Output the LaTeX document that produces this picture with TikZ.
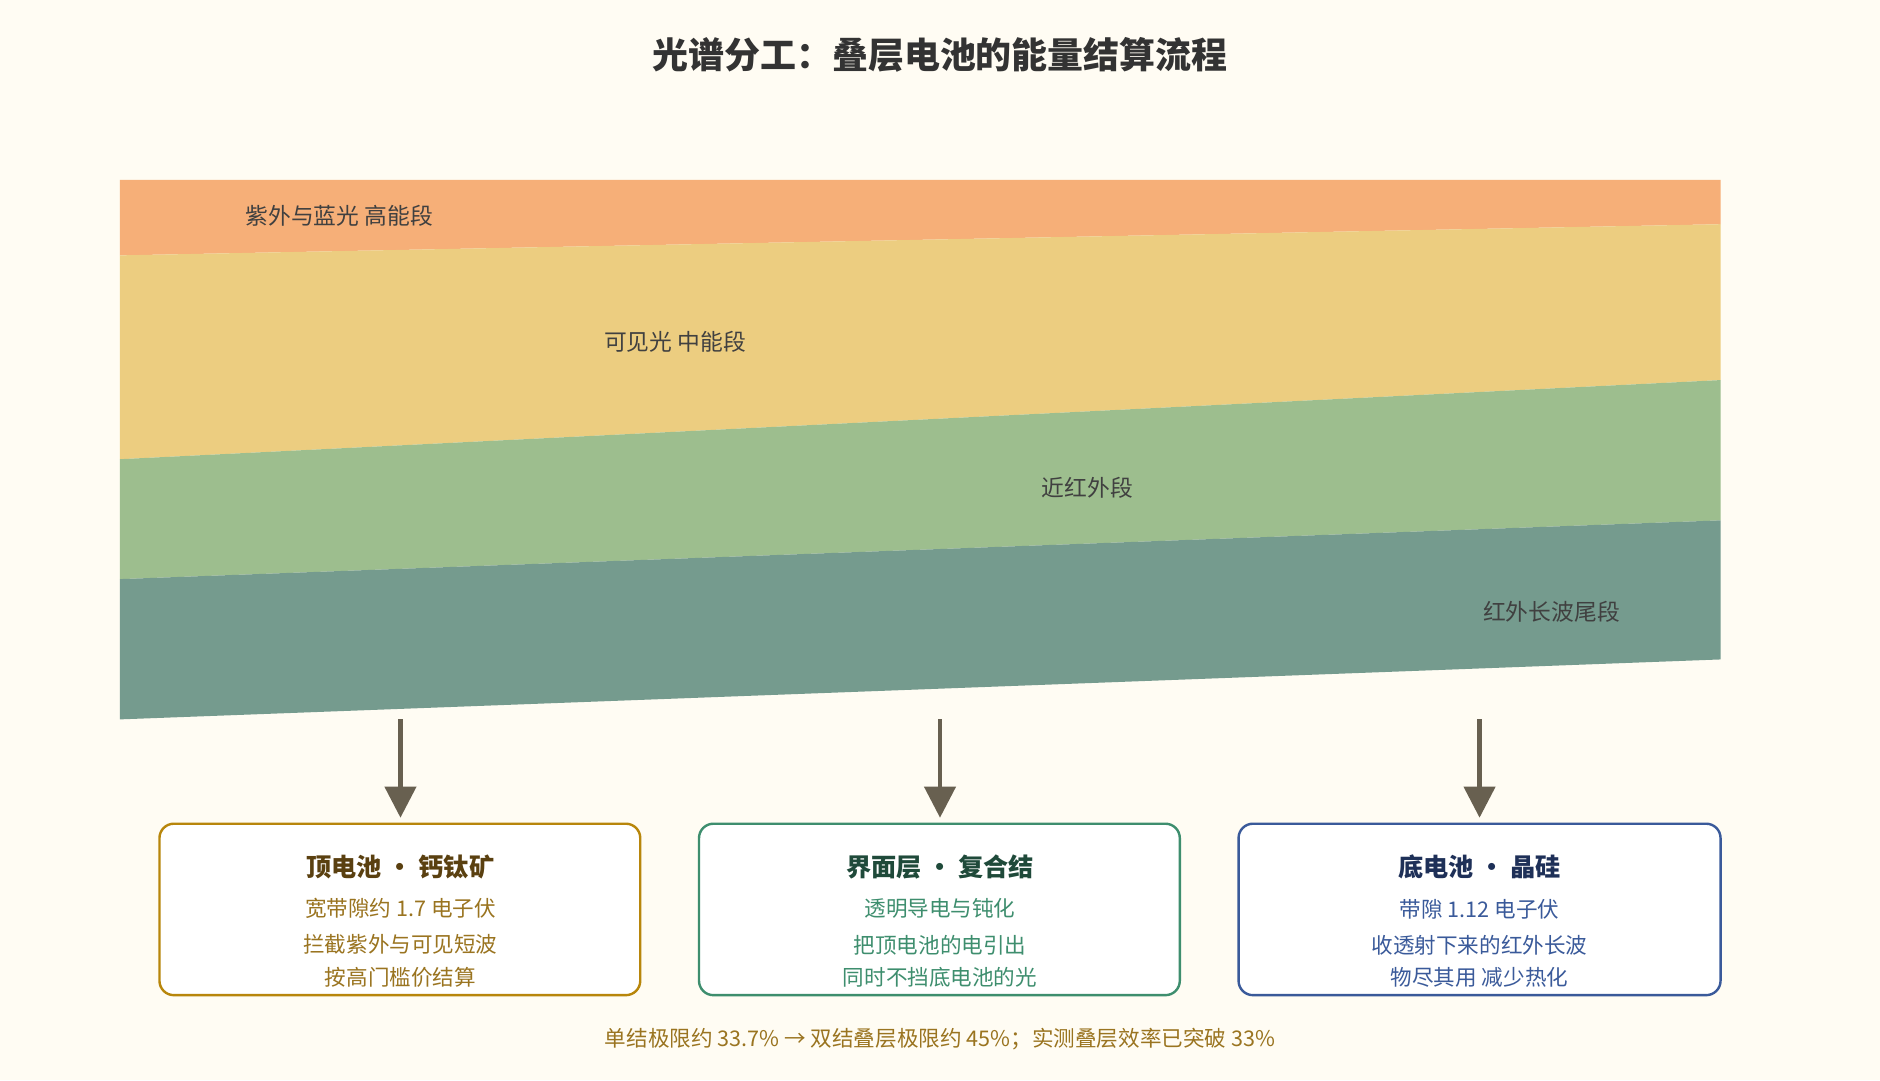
\documentclass[tikz,border=0pt]{standalone}
\usepackage{fontspec}
\setmainfont{Noto Sans CJK SC}
\usetikzlibrary{arrows.meta}
\definecolor{bg}{HTML}{FFFCF3}
\definecolor{orng}{HTML}{F6AF78}
\definecolor{yel}{HTML}{ECCD80}
\definecolor{grn}{HTML}{9DBE8E}
\definecolor{teal}{HTML}{759B8E}
\definecolor{arr}{HTML}{686050}
\definecolor{gold}{HTML}{B8860B}
\definecolor{goldt}{HTML}{5A4010}
\definecolor{gtx}{HTML}{9A7420}
\definecolor{gb}{HTML}{3E8E6E}
\definecolor{gbt}{HTML}{1F4A3A}
\definecolor{bb}{HTML}{3A5A9A}
\definecolor{bbt}{HTML}{1E3058}
\begin{document}
\begin{tikzpicture}[x=1pt,y=-1pt,
 band/.style={font=\fontsize{19}{22}\selectfont, text=black!75},
 card/.style={draw, line width=2pt, rounded corners=12pt, fill=white},
 ttl/.style={font=\bfseries\fontsize{21}{24}\selectfont},
 ln/.style={font=\fontsize{18}{21}\selectfont},
 ar/.style={draw=arr, line width=3.5pt, -{Triangle[length=26pt,width=26pt]}}]
\fill[bg] (0,0) rectangle (1568,901);
\useasboundingbox (0,0) rectangle (1568,901);
\node[font=\bfseries\fontsize{30}{34}\selectfont, text=black!80] (t) at (784,46) {光谱分工：叠层电池的能量结算流程};
\fill[orng] (100,150) -- (1435,150) -- (1435,187) -- (100,213) -- cycle;
\fill[yel] (100,213) -- (1435,187) -- (1435,317) -- (100,383) -- cycle;
\fill[grn] (100,383) -- (1435,317) -- (1435,434) -- (100,483) -- cycle;
\fill[teal] (100,483) -- (1435,434) -- (1435,550) -- (100,600) -- cycle;
\node[band] (l1) at (283,180) {紫外与蓝光 高能段};
\node[band] (l2) at (563,285) {可见光 中能段};
\node[band] (l3) at (907,407) {近红外段};
\node[band] (l4) at (1294,510) {红外长波尾段};
\coordinate (a1) at (334,600); \coordinate (a2) at (784,600); \coordinate (a3) at (1234,600);
\coordinate (b1) at (334,682); \coordinate (b2) at (784,682); \coordinate (b3) at (1234,682);
\draw[ar] (a1) -- (b1); \draw[ar] (a2) -- (b2); \draw[ar] (a3) -- (b3);
\draw[card, draw=gold] (133,687) rectangle (534,830);
\draw[card, draw=gb] (583,687) rectangle (984,830);
\draw[card, draw=bb] (1033,687) rectangle (1435,830);
\node[ttl, text=goldt] (c1) at (334,723) {顶电池 • 钙钛矿};
\node[ln, text=gtx] (c1a) at (334,758) {宽带隙约 1.7 电子伏};
\node[ln, text=gtx] (c1b) at (334,788) {拦截紫外与可见短波};
\node[ln, text=gtx] (c1c) at (334,815) {按高门槛价结算};
\node[ttl, text=gbt] (c2) at (784,723) {界面层 • 复合结};
\node[ln, text=gb] (c2a) at (784,758) {透明导电与钝化};
\node[ln, text=gb] (c2b) at (784,788) {把顶电池的电引出};
\node[ln, text=gb] (c2c) at (784,815) {同时不挡底电池的光};
\node[ttl, text=bbt] (c3) at (1234,723) {底电池 • 晶硅};
\node[ln, text=bb] (c3a) at (1234,758) {带隙 1.12 电子伏};
\node[ln, text=bb] (c3b) at (1234,788) {收透射下来的红外长波};
\node[ln, text=bb] (c3c) at (1234,815) {物尽其用 减少热化};
\node[ln, text=gtx] (f) at (784,867) {单结极限约 33.7\% → 双结叠层极限约 45\%；实测叠层效率已突破 33\%};
\end{tikzpicture}
\end{document}
